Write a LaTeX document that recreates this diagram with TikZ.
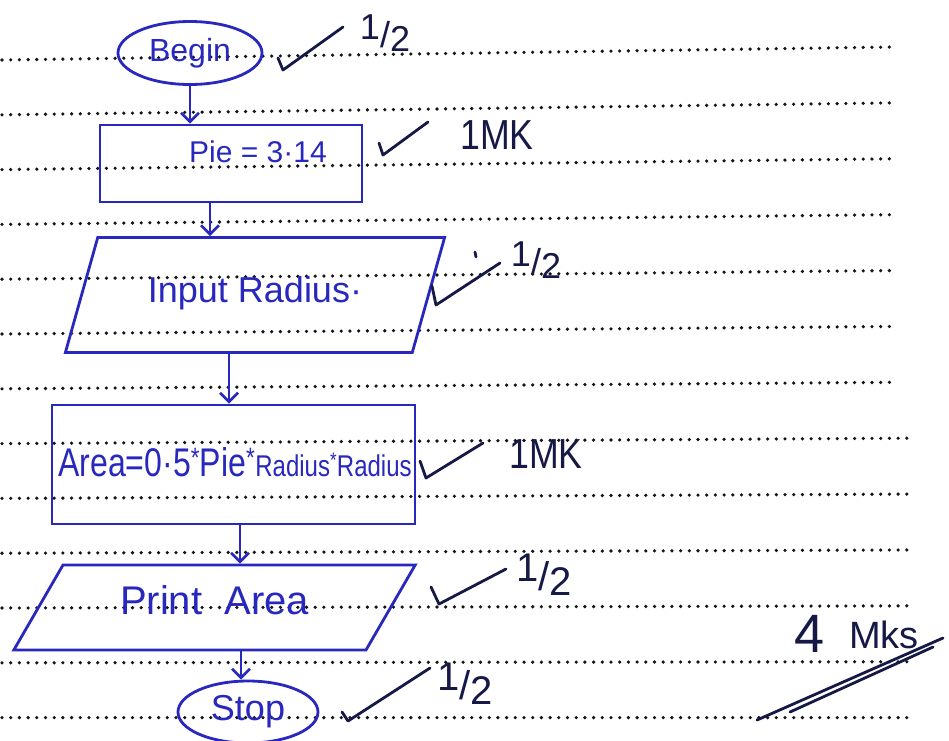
\documentclass[tikz,border=0pt]{standalone}
\usepackage{fontspec}
\setmainfont{Liberation Sans}
\usetikzlibrary{shapes.geometric,arrows.meta}
\definecolor{ink}{RGB}{40,40,190}
\definecolor{pen}{RGB}{22,24,70}
\definecolor{dotc}{RGB}{20,20,20}
\newcommand\halfmk{\raisebox{0.22em}{1}/\raisebox{-0.12em}{2}}
\begin{document}
\begin{tikzpicture}[x=1pt,y=-1pt,
  inkline/.style={draw=ink,line width=2.8pt},
  handtxt/.style={text=ink,inner sep=0pt},
  term/.style={inkline,ellipse,inner sep=0pt,text=ink},
  proc/.style={inkline,rectangle,inner sep=0pt},
  io/.style={inkline,trapezium,trapezium stretches=true,inner sep=1pt,text=ink},
  arr/.style={draw=ink,line width=2.6pt,-{Straight Barb[length=9pt,width=18pt,line width=2.6pt]}},
  tick/.style={draw=pen,line width=2.8pt,line cap=round,line join=round},
  marktxt/.style={text=pen,inner sep=0pt},
  dots/.style={draw=dotc,line width=3.6pt,line cap=round,dash pattern=on 0pt off 8.7pt}]
\fill[white] (0,0) rectangle (949,740);
\useasboundingbox (0,0) rectangle (949,740);
% ruled paper
\foreach \k in {1,...,13}{
  \pgfmathsetmacro\yl{60+54.8*(\k-1)}
  \pgfmathsetmacro\yr{\yl-13*(13-\k)/12}
  \pgfmathsetmacro\xe{\k<8?893:910}
  \draw[dots] (2,\yl) -- (\xe,\yr);
}
% flowchart shapes
\node[term,minimum width=144pt,minimum height=63pt,font=\fontsize{32}{34}\selectfont] (begin) at (190,53) {Begin};
\node[proc,minimum width=262pt,minimum height=77pt] (pie) at (231,163.5) {};
\node[handtxt,font=\fontsize{30}{32}\selectfont] (pietxt) at (258,152) {Pie = 3·14};
\node[io,trapezium left angle=61,trapezium right angle=119,minimum width=380pt,minimum height=115pt,font=\fontsize{36}{38}\selectfont] (inp) at (255,295) {\raisebox{12pt}{Input Radius·}\hspace{40pt}};
\node[proc,minimum width=363pt,minimum height=119pt] (area) at (233.5,464.5) {};
\node[handtxt] (areatxt) at (235,462) {\scalebox{0.8}[1]{\fontsize{40}{42}\selectfont Area=0·5\textsuperscript{*}Pie\textsuperscript{*}{\fontsize{30}{32}\selectfont Radius\textsuperscript{*}Radius}}};
\node[io,trapezium left angle=56,trapezium right angle=124,minimum width=403pt,minimum height=85pt,font=\fontsize{40}{42}\selectfont] (prt) at (214.5,607.5) {\raisebox{15pt}{Print\ \ Area}\hspace{69pt}};
\node[term,minimum width=140pt,minimum height=62pt,font=\fontsize{36}{38}\selectfont] (stop) at (248,712) {Stop};
% connectors
\draw[arr] (begin.south) -- (begin.south |- pie.north);
\draw[arr] ([xshift=-21pt]pie.south) -- ([xshift=-21pt]pie.south |- inp.north);
\draw[arr] ([xshift=-26pt]inp.south) -- ([xshift=-26pt]inp.south |- area.north);
\draw[arr] ([xshift=6.5pt]area.south) -- ([xshift=6.5pt]area.south |- prt.north);
\draw[arr] ([xshift=-7pt]stop.north |- prt.south) -- ([xshift=-7pt]stop.north);
% marking ticks
\draw[tick] (278,58) -- (283,70) -- (343,27);
\draw[tick] (379,143) -- (383,155) -- (428,122);
\draw[tick] (432,286) -- (436,305) -- (500,263);
\draw[tick] (475,252) -- (476,257);
\draw[tick] (420,461) -- (426,478) -- (483,443);
\draw[tick] (431,587) -- (439,604) -- (506,569);
\draw[tick] (342,712) -- (348,721) -- (430,668);
% marks
\node[marktxt,font=\fontsize{36}{38}\selectfont] (m1) at (385,33) {\halfmk};
\node[marktxt,font=\fontsize{42}{44}\selectfont] (m2) at (497,135) {\scalebox{0.85}[1]{1MK}};
\node[marktxt,font=\fontsize{36}{38}\selectfont] (m3) at (536,260) {\halfmk};
\node[marktxt,font=\fontsize{42}{44}\selectfont] (m4) at (546,454) {\scalebox{0.85}[1]{1MK}};
\node[marktxt,font=\fontsize{40}{42}\selectfont] (m5) at (544,575) {\halfmk};
\node[marktxt,font=\fontsize{40}{42}\selectfont] (m6) at (465,684) {\halfmk};
\node[marktxt,font=\fontsize{54}{56}\selectfont] (tot) at (810,634) {4};
\node[marktxt,font=\fontsize{38}{40}\selectfont] (mks) at (884,635) {Mks};
\draw[tick] (757,720) -- (943,638);
\draw[tick] (790,712) -- (933,647);
\end{tikzpicture}
\end{document}
